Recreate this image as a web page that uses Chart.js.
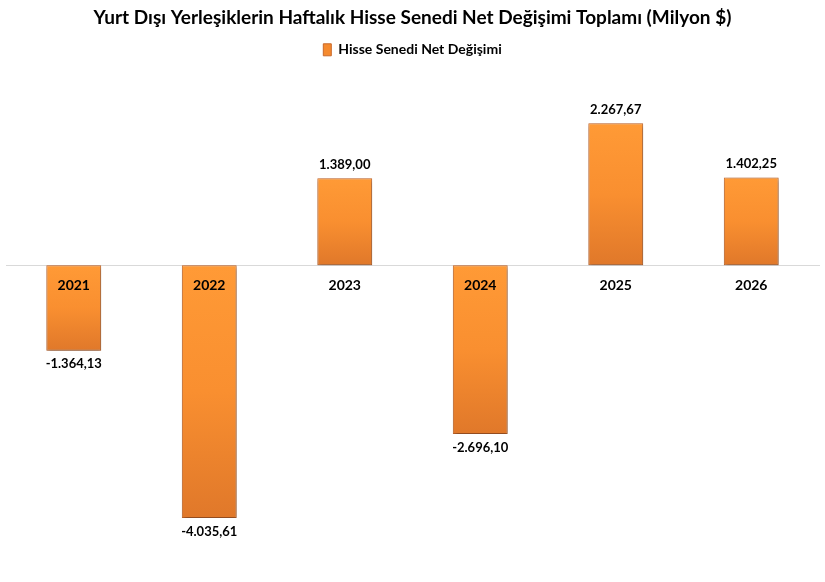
<!DOCTYPE html>
<html>
<head>
<meta charset="utf-8">
<script src="https://cdn.jsdelivr.net/npm/chart.js@4.4.1/dist/chart.umd.min.js"></script>
<style>
  html, body { margin: 0; padding: 0; background: #fff; }
  #wrap { width: 825px; height: 582px; }
</style>
</head>
<body>
<div id="wrap"><canvas id="netChart"></canvas></div>
<script>
const years = ["2021", "2022", "2023", "2024", "2025", "2026"];
const netChange = [-1364.13, -4035.61, 1389.00, -2696.10, 2267.67, 1402.25];
const seriesName = "Hisse Senedi Net Değişimi";
const chartTitle = "Yurt Dışı Yerleşiklerin Haftalık Hisse Senedi Net Değişimi Toplamı (Milyon $)";

const FONT = "Lato, 'Open Sans', sans-serif";

function trFormat(v) {
  return v.toLocaleString("tr-TR", { minimumFractionDigits: 2, maximumFractionDigits: 2 });
}

// vertical gradient per bar, light on top, darker at the bottom
function barFill(c) {
  const chart = c.chart;
  const y = chart.scales.y;
  if (!y || !chart.chartArea || c.dataIndex === undefined) return "#F58A2E";
  const v = c.raw;
  const top = y.getPixelForValue(Math.max(v, 0));
  const bot = y.getPixelForValue(Math.min(v, 0));
  const g = chart.ctx.createLinearGradient(0, top, 0, bot);
  g.addColorStop(0, "#FF9A36");
  g.addColorStop(0.5, "#F98F30");
  g.addColorStop(1, "#E0782A");
  return g;
}

const labelPlugin = {
  id: "valueLabels",
  beforeDatasetDraw(chart) {
    const ctx = chart.ctx;
    ctx.save();
    ctx.shadowColor = "rgba(0,0,0,0.35)";
    ctx.shadowBlur = 4;
    ctx.shadowOffsetX = 1;
    ctx.shadowOffsetY = 2;
  },
  afterDatasetDraw(chart) {
    chart.ctx.restore();
  },
  afterDatasetsDraw(chart) {
    const ctx = chart.ctx;
    const meta = chart.getDatasetMeta(0);
    ctx.save();
    ctx.font = "bold 13px " + FONT;
    ctx.fillStyle = "#000";
    ctx.textAlign = "center";
    meta.data.forEach((bar, i) => {
      const v = netChange[i];
      if (v >= 0) {
        ctx.textBaseline = "bottom";
        ctx.fillText(trFormat(v), bar.x, bar.y - 7);
      } else {
        ctx.textBaseline = "top";
        ctx.fillText(trFormat(v), bar.x, bar.y + 7);
      }
    });
    ctx.restore();
  }
};

new Chart(document.getElementById("netChart"), {
  type: "bar",
  data: {
    labels: years,
    datasets: [{
      label: seriesName,
      data: netChange,
      backgroundColor: barFill,
      borderColor: "#C8682A",
      borderWidth: 1,
      borderSkipped: false,
      barPercentage: 1,
      categoryPercentage: 0.405
    }]
  },
  options: {
    responsive: true,
    maintainAspectRatio: false,
    animation: false,
    layout: { padding: { left: 6, right: 6, top: 0, bottom: 30 } },
    plugins: {
      title: {
        display: true,
        text: chartTitle,
        color: "#000",
        font: { family: FONT, size: 19, weight: "bold" },
        padding: { top: 6, bottom: 6 }
      },
      legend: {
        display: true,
        labels: {
          color: "#000",
          boxWidth: 8,
          boxHeight: 12,
          padding: 8,
          font: { family: FONT, size: 14, weight: "bold" },
          generateLabels() {
            return [{ text: seriesName, fillStyle: "#F58A2E", strokeStyle: "#C8682A", lineWidth: 1 }];
          }
        }
      },
      tooltip: { enabled: false }
    },
    scales: {
      x: {
        position: { y: 0 },
        grid: { display: false },
        border: { display: true, color: "#D9D9D9", width: 1 },
        ticks: {
          z: 1,
          color: "#000",
          padding: 4,
          font: { family: FONT, size: 14, weight: "bold" }
        }
      },
      y: {
        display: false,
        min: -4580,
        max: 3170
      }
    }
  },
  plugins: [labelPlugin]
});
</script>
</body>
</html>
